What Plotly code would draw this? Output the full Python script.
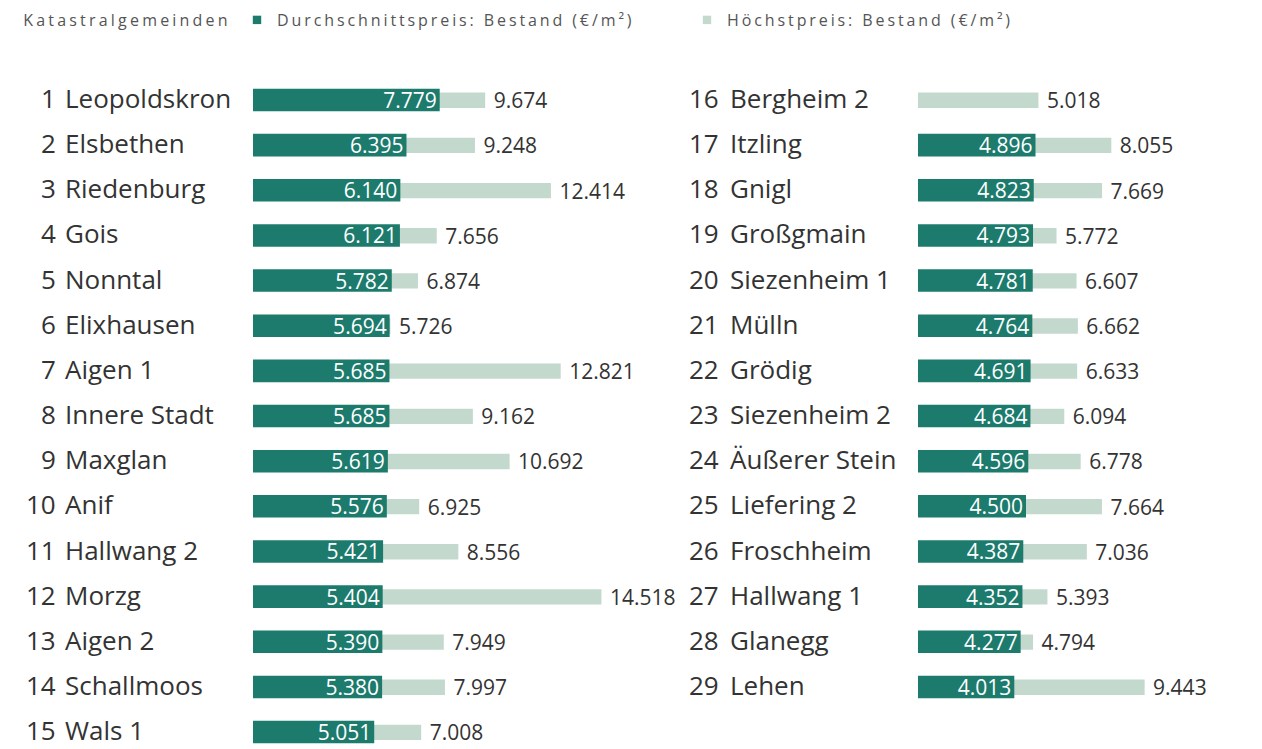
import plotly.graph_objects as go

# ---------------- data ----------------
ranks_left = [1, 2, 3, 4, 5, 6, 7, 8, 9, 10, 11, 12, 13, 14, 15]
names_left = ["Leopoldskron", "Elsbethen", "Riedenburg", "Gois", "Nonntal", "Elixhausen",
              "Aigen 1", "Innere Stadt", "Maxglan", "Anif", "Hallwang 2", "Morzg",
              "Aigen 2", "Schallmoos", "Wals 1"]
avg_left = [7779, 6395, 6140, 6121, 5782, 5694, 5685, 5685, 5619, 5576, 5421, 5404, 5390, 5380, 5051]
max_left = [9674, 9248, 12414, 7656, 6874, 5726, 12821, 9162, 10692, 6925, 8556, 14518, 7949, 7997, 7008]

ranks_right = [16, 17, 18, 19, 20, 21, 22, 23, 24, 25, 26, 27, 28, 29]
names_right = ["Bergheim 2", "Itzling", "Gnigl", "Großgmain", "Siezenheim 1", "Mülln",
               "Grödig", "Siezenheim 2", "Äußerer Stein", "Liefering 2", "Froschheim",
               "Hallwang 1", "Glanegg", "Lehen"]
avg_right = [None, 4896, 4823, 4793, 4781, 4764, 4691, 4684, 4596, 4500, 4387, 4352, 4277, 4013]
max_right = [5018, 8055, 7669, 5772, 6607, 6662, 6633, 6094, 6778, 7664, 7036, 5393, 4794, 9443]

legend_title = "Katastralgemeinden"
name_avg = "Durchschnittspreis: Bestand (€/m²)"
name_max = "Höchstpreis: Bestand (€/m²)"

# ---------------- style ----------------
W, H = 1262, 749
DARK = "#1c7b6c"
LIGHT = "#c4d9ce"
TXT = "#333333"
LEG = "#555555"
FONT = "Open Sans"
PXPER = 0.024  # pixels per euro

left_x0, left_x1 = 253, 685
right_x0, right_x1 = 918, 1262
row0_px, pitch = 98, 45.15
ymax = row0_px / pitch
ymin = -(H - row0_px) / pitch

rows_left = [-i for i in range(len(names_left))]
rows_right = [-i for i in range(len(names_right))]

fig = go.Figure()

# legend heading (first annotation)
fig.add_annotation(x=127 / W, y=1 - 20 / H, xref="paper", yref="paper", text=legend_title,
                   showarrow=False, xanchor="center", yanchor="middle",
                   font=dict(family=FONT, size=16, color=LEG))


def add_col(rows, avg, mx, xa, ya, show):
    fig.add_trace(go.Bar(
        y=rows, x=mx, orientation="h", name=name_max, legendrank=2,
        marker=dict(color=LIGHT, line=dict(width=0)), width=0.34, offset=-0.22,
        texttemplate=" %{x:,}", textposition="outside", constraintext="none",
        outsidetextfont=dict(family=FONT, size=21, color=TXT),
        cliponaxis=False, xaxis=xa, yaxis=ya, showlegend=show, hoverinfo="skip"))
    fig.add_trace(go.Bar(
        y=rows, x=avg, orientation="h", name=name_avg, legendrank=1,
        marker=dict(color=DARK, line=dict(width=0)), width=0.5, offset=-0.294,
        texttemplate="%{x:,}", textposition="inside", insidetextanchor="end",
        constraintext="none",
        insidetextfont=dict(family=FONT, size=21, color="white"),
        cliponaxis=False, xaxis=xa, yaxis=ya, showlegend=show, hoverinfo="skip"))


add_col(rows_left, avg_left, max_left, "x", "y", True)
add_col(rows_right, avg_right, max_right, "x2", "y2", False)

for ranks, names, rows, xr, xn, ya in [
        (ranks_left, names_left, rows_left, 57, 64, "y"),
        (ranks_right, names_right, rows_right, 720, 729, "y2")]:
    for r, n, y in zip(ranks, names, rows):
        fig.add_annotation(x=xr / W, y=y, xref="paper", yref=ya, text=str(r),
                           showarrow=False, xanchor="right", yanchor="middle", borderpad=0,
                           font=dict(family=FONT, size=26, color=TXT))
        fig.add_annotation(x=xn / W, y=y, xref="paper", yref=ya, text=n,
                           showarrow=False, xanchor="left", yanchor="middle", borderpad=0,
                           font=dict(family=FONT, size=26, color=TXT))

axis_common = dict(showgrid=False, zeroline=False, showticklabels=False, showline=False, ticks="")
fig.update_layout(
    width=W, height=H,
    margin=dict(l=0, r=0, t=0, b=0),
    paper_bgcolor="white", plot_bgcolor="white",
    barmode="overlay", separators=",.",
    font=dict(family=FONT, color=TXT),
    xaxis=dict(domain=[left_x0 / W, left_x1 / W], range=[0, (left_x1 - left_x0) / PXPER], **axis_common),
    xaxis2=dict(domain=[right_x0 / W, right_x1 / W], range=[0, (right_x1 - right_x0) / PXPER],
                anchor="y2", **axis_common),
    yaxis=dict(domain=[0, 1], range=[ymin, ymax], **axis_common),
    yaxis2=dict(domain=[0, 1], range=[ymin, ymax], anchor="x2", **axis_common),
    legend=dict(orientation="h", x=(262 - 25) / W, y=1 - 20 / H, xanchor="left", yanchor="middle",
                font=dict(family=FONT, size=16, color=LEG),
                traceorder="normal", entrywidth=405, itemwidth=30,
                bgcolor="rgba(0,0,0,0)"),
)

post = """
document.body.style.margin='0px';
document.body.style.overflow='hidden';
document.querySelectorAll('.legendtext').forEach(function(e){e.style.letterSpacing='2.9px';});
document.querySelectorAll('.legendpoints path').forEach(function(e){
  var t=e.getAttribute('transform')||''; e.setAttribute('transform', t+' scale(0.7)');});
var a=document.querySelector('.annotation[data-index="0"] text');
if(a){a.style.letterSpacing='3.2px';}
"""

fig.write_html("out.html", post_script=post, config={"displayModeBar": False})
